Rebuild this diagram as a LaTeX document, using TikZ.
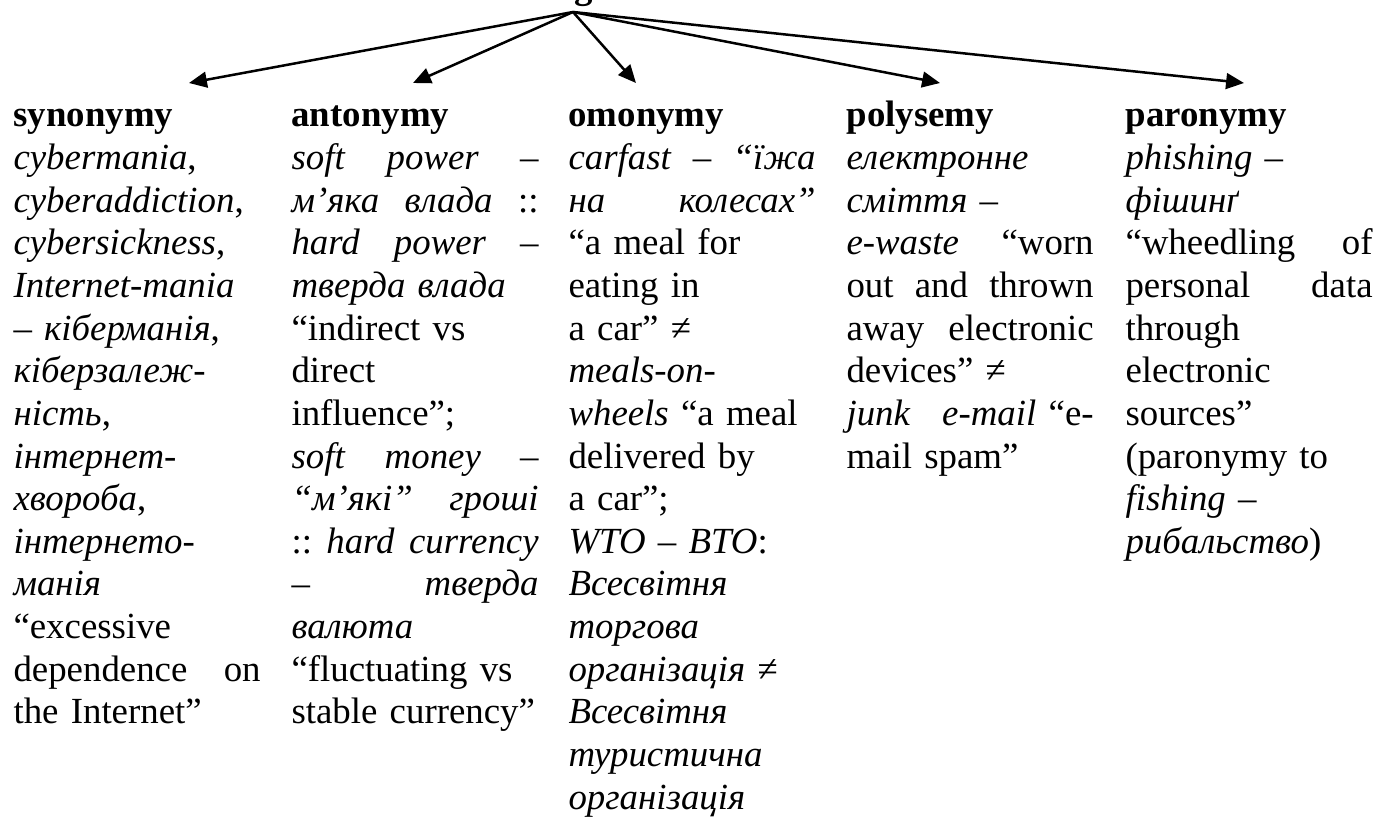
\documentclass[tikz,border=0pt]{standalone}
\usepackage{fontspec}
\setmainfont{Liberation Serif}[Ligatures=CommonOff]
\usetikzlibrary{arrows.meta}
\begin{document}
\begin{tikzpicture}[x = 0.38pt, y = -0.38pt,
  cell/.style = {anchor = base west, inner sep = 0pt, text width = 93.9pt, align = left, font = \fontsize{14}{16.2}\selectfont},
  link/.style = {line width = 0.95pt, -{Triangle[length = 6.8pt, width = 6pt]}}]
\useasboundingbox (0, 0) rectangle (1381, 819);
\node[anchor = base, inner sep = 0pt, font = \fontsize{14}{16.2}\selectfont\bfseries] (title) at (584, -1) {g};
\coordinate (root) at (573, 12);
\node[cell] (synonymy) at (13, 127) {\textbf{synonymy}\\ \textit{cybermania},\\ \textit{cyberaddiction},\\ \textit{cybersickness},\\ \textit{Internet-mania}\\ – \textit{кіберманія},\\ \textit{кіберзалеж-}\\ \textit{ність},\\ \textit{інтернет-}\\ \textit{хвороба},\\ \textit{інтернето-}\\ \textit{манія}\\ “excessive\\ dependence\hfill on\\ the Internet”};
\node[cell] (antonymy) at (291, 127) {\textbf{antonymy}\\ \textit{soft}\hfill\textit{power}\hfill –\\ \textit{м’яка}\hfill\textit{влада}\hfill ::\\ \textit{hard}\hfill\textit{power}\hfill –\\ \textit{тверда влада}\\ “indirect vs\\ direct\\ influence”;\\ \textit{soft}\hfill\textit{money}\hfill –\\ \textit{“м’які”}\hfill\textit{гроші}\\ ::\hfill\textit{hard}\hfill\textit{currency}\\ –\hfill\textit{тверда}\\ \textit{валюта}\\ “fluctuating vs\\ stable currency”};
\node[cell] (omonymy) at (568, 127) {\textbf{omonymy}\\ \textit{carfast}\hfill\textit{–}\hfill\textit{“їжа}\\ \textit{на}\hfill\textit{колесах”}\\ “a meal for\\ eating in\\ a car” ≠\\ \textit{meals-on-}\\ \textit{wheels} “a meal\\ delivered by\\ a car”;\\ \textit{WTO – BTO}:\\ \textit{Всесвітня}\\ \textit{торгова}\\ \textit{організація} ≠\\ \textit{Всесвітня}\\ \textit{туристична}\\ \textit{організація}};
\node[cell] (polysemy) at (846, 127) {\textbf{polysemy}\\ \textit{електронне}\\ \textit{сміття} –\\ \textit{e-waste}\hfill“worn\\ out\hfill and\hfill thrown\\ away\hfill electronic\\ devices” ≠\\ \textit{junk}\hfill\textit{e-mail} “e-\\ mail spam”};
\node[cell] (paronymy) at (1125, 127) {\textbf{paronymy}\\ \textit{phishing} –\\ \textit{фішинґ}\\ “wheedling\hfill of\\ personal\hfill data\\ through\\ electronic\\ sources”\\ (paronymy to\\ \textit{fishing} –\\ \textit{рибальство})};
\coordinate (synonymy tip) at (189, 83);
\coordinate (antonymy tip) at (413, 83);
\coordinate (omonymy tip) at (636, 83);
\coordinate (polysemy tip) at (940, 83);
\coordinate (paronymy tip) at (1244, 83);
\draw[link] (root) -- (synonymy tip);
\draw[link] (root) -- (antonymy tip);
\draw[link] (root) -- (omonymy tip);
\draw[link] (root) -- (polysemy tip);
\draw[link] (root) -- (paronymy tip);
\end{tikzpicture}
\end{document}
